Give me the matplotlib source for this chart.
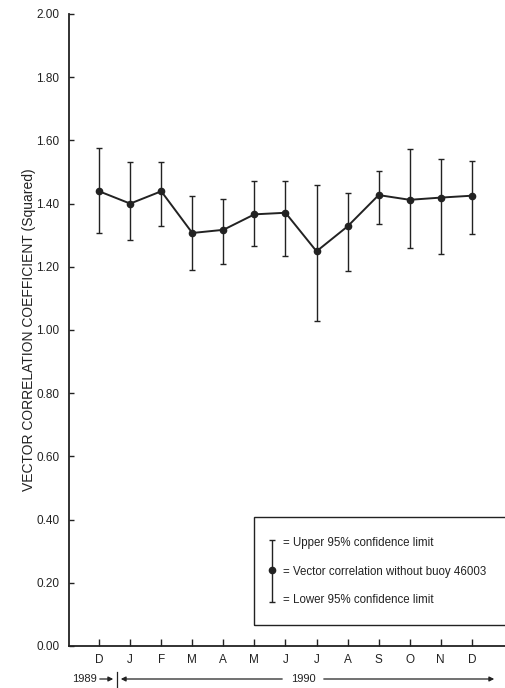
import matplotlib
matplotlib.use("Agg")
import matplotlib.pyplot as plt
from matplotlib.patches import Rectangle

# monthly values, Dec 1989 to Dec 1990
months = ["D", "J", "F", "M", "A", "M", "J", "J", "A", "S", "O", "N", "D"]
corr = [1.439, 1.400, 1.439, 1.307, 1.317, 1.366, 1.371, 1.249, 1.328, 1.427, 1.412, 1.419, 1.425]
upper = [1.575, 1.532, 1.532, 1.425, 1.414, 1.473, 1.472, 1.458, 1.434, 1.504, 1.573, 1.540, 1.536]
lower = [1.308, 1.284, 1.329, 1.189, 1.209, 1.266, 1.234, 1.030, 1.188, 1.336, 1.261, 1.241, 1.305]
y_ticks = [0.0, 0.2, 0.4, 0.6, 0.8, 1.0, 1.2, 1.4, 1.6, 1.8, 2.0]

ink = "#222222"
plt.rcParams["font.family"] = ["Liberation Sans", "DejaVu Sans"]

W, H = 506, 688


def fx(px):
    return px / W


def fy(py):
    return 1 - py / H


fig = plt.figure(figsize=(5.06, 6.88), dpi=100, facecolor="w")
ax = fig.add_axes([fx(69), fy(646), 1 - fx(69), fy(14) - fy(646)])

x = list(range(len(months)))
err_lo = [c - l for c, l in zip(corr, lower)]
err_hi = [u - c for c, u in zip(corr, upper)]
ax.errorbar(x, corr, yerr=[err_lo, err_hi], fmt="none", ecolor=ink,
            elinewidth=1.0, capsize=2.0, capthick=1.0)
ax.plot(x, corr, color=ink, lw=1.4, marker="o", ms=4.5)

ax.set_xlim(-0.97, 13.1)
ax.set_ylim(0, 2.0)
ax.set_xticks(x)
ax.set_xticklabels(months, fontsize=8.5)
ax.set_yticks(y_ticks)
ax.set_yticklabels(["%.2f" % v for v in y_ticks], fontsize=8.5)
ax.tick_params(axis="x", direction="in", length=5, width=1, pad=6, colors=ink)
ax.tick_params(axis="y", direction="in", length=3.5, width=1, pad=7, colors=ink)
ax.spines["top"].set_visible(False)
ax.spines["right"].set_visible(False)
ax.spines["left"].set_linewidth(1.3)
ax.spines["bottom"].set_linewidth(1.3)
ax.spines["left"].set_color(ink)
ax.spines["bottom"].set_color(ink)
ax.set_ylabel("VECTOR CORRELATION COEFFICIENT (Squared)", fontsize=10, color=ink, labelpad=0)

# legend box
ax.add_patch(Rectangle((5.0, 0.067), 9.0, 0.341, fill=False, ec=ink, lw=1.0, clip_on=False))
ax.errorbar([5.556], [0.239], yerr=[[0.099], [0.097]], fmt="o", color=ink, ms=4.5,
            elinewidth=1.0, capsize=2.0, capthick=1.0)
ax.text(5.92, 0.326, "= Upper 95% confidence limit", fontsize=8.3, va="center", color=ink)
ax.text(5.92, 0.235, "= Vector correlation without buoy 46003", fontsize=8.3, va="center", color=ink)
ax.text(5.92, 0.146, "= Lower 95% confidence limit", fontsize=8.3, va="center", color=ink)

# year markers under the axis
yy = fy(679)
fig.text(fx(84), yy, "1989", fontsize=8, ha="center", va="center", color=ink)
arrow = dict(arrowstyle="-|>", color=ink, lw=0.9, mutation_scale=7)
fig.add_artist(plt.Line2D([fx(117), fx(117)], [fy(672), fy(688)], color=ink, lw=0.9))
ax.annotate("", xy=(fx(116), yy), xytext=(fx(97), yy), xycoords="figure fraction",
            textcoords="figure fraction", arrowprops=arrow)
ax.annotate("", xy=(fx(118), yy), xytext=(fx(285), yy), xycoords="figure fraction",
            textcoords="figure fraction", arrowprops=arrow)
ax.annotate("", xy=(fx(497), yy), xytext=(fx(321), yy), xycoords="figure fraction",
            textcoords="figure fraction", arrowprops=arrow)
fig.text(fx(303), yy, "1990", fontsize=8, ha="center", va="center", color=ink)

fig.savefig("out.png", dpi=100, facecolor="w")
